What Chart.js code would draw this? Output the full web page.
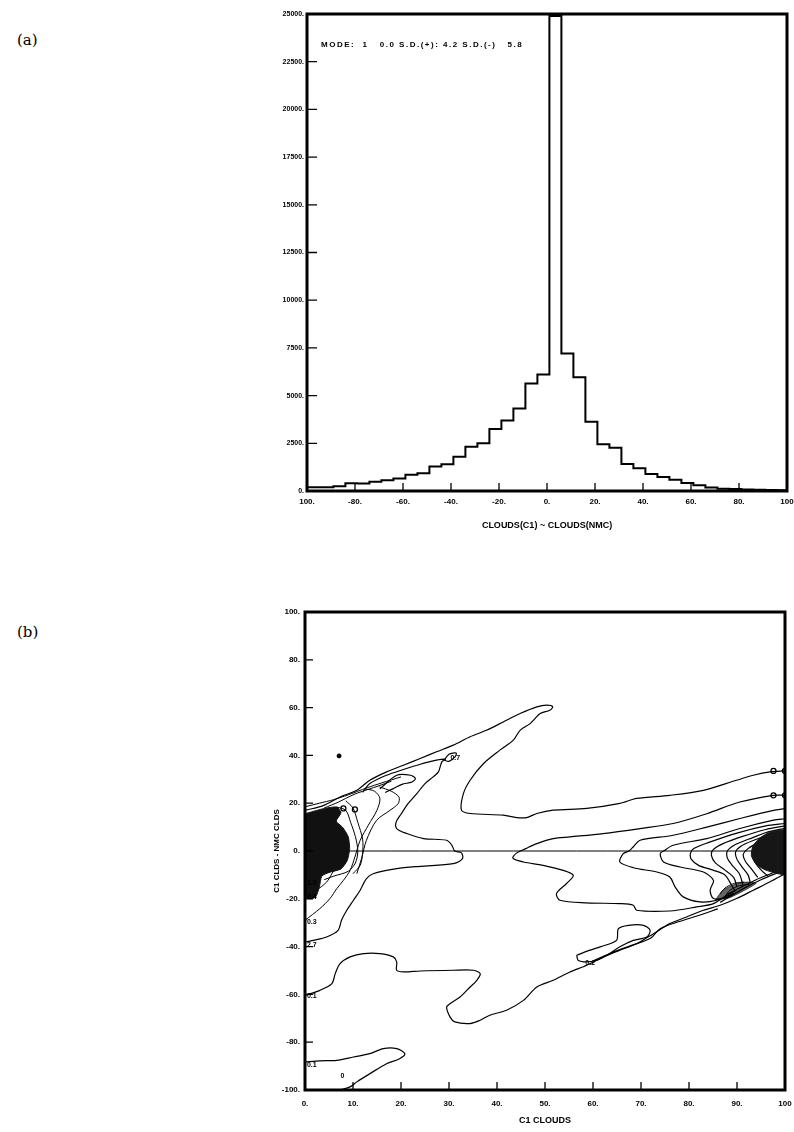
<!DOCTYPE html>
<html>
<head>
<meta charset="utf-8">
<script src="https://cdn.jsdelivr.net/npm/chart.js@4.4.1/dist/chart.umd.min.js"></script>
<style>
  html, body { margin: 0; padding: 0; background: #fff; }
  body { width: 794px; height: 1132px; position: relative; overflow: hidden; }
  .panel { position: absolute; font-family: "DejaVu Serif", "Liberation Serif", serif; font-size: 15px; color: #000; }
  .box { position: absolute; }
  #mode { position: absolute; left: 321px; top: 40px; font: bold 8px "Liberation Sans", Arial, sans-serif;
          letter-spacing: 1.5px; white-space: pre; color: #000; }
</style>
</head>
<body>
<div class="panel" style="left:17px; top:31px">(a)</div>
<div class="panel" style="left:17px; top:623px">(b)</div>
<div class="box" style="left:250px; top:0; width:544px; height:545px"><canvas id="hist"></canvas></div>
<div class="box" style="left:250px; top:590px; width:544px; height:542px"><canvas id="contour"></canvas></div>
<div id="mode">MODE:  1   0.0 S.D.(+): 4.2 S.D.(-)   5.8</div>
<script>
// ---- panel (a): histogram of C1 - NMC cloud differences ----
const binEdges = [-100, -94, -89, -84, -79, -74, -69, -64, -59, -54, -49, -44, -39, -34, -29, -24,
  -19, -14, -9, -4, 1, 6, 11, 16, 21, 26, 31, 36, 41, 46, 51, 56, 61, 66, 71, 76, 81, 86, 91, 96, 100];
const binCounts = [190, 200, 250, 400, 390, 490, 560, 660, 850, 930, 1280, 1400, 1800, 2320, 2500, 3250,
  3690, 4330, 5640, 6110, 24900, 7200, 5960, 3630, 2450, 2270, 1420, 1190, 890, 740, 590, 420,
  300, 180, 120, 100, 80, 60, 50, 40];
const histXLabels = ['100.', '-80.', '-60.', '-40.', '-20.', '0.', '20.', '40.', '60.', '80.', '100'];
const histYLabels = ['0.', '2500.', '5000.', '7500.', '10000.', '12500.', '15000.', '17500.', '20000.', '22500.', '25000.'];

// ---- panel (b): contours of C1 clouds vs (C1 - NMC) ----
const outerUpper = [[0, 17], [3.8, 19], [7.3, 22.6], [10.8, 25.4], [13.5, 29.6], [17, 33.1], [20.5, 35.9], [24, 38.7],
  [27.4, 41.5], [30.9, 44.3], [34.4, 47.8], [37.8, 50.5], [41.3, 54], [44.8, 57.5], [48.3, 60.3], [50.4, 61],
  [51.6, 60.3], [51, 58.9], [49, 57.5], [46.9, 53.3], [44.8, 50.5], [43.4, 46.4], [40.6, 42.2], [37.2, 36.6],
  [34.4, 29.6], [33, 24], [32.6, 17.1], [34.4, 15.7], [41.3, 15], [44.1, 14], [46.2, 14], [48.3, 15.7],
  [51.7, 17.1], [58.7, 17.8], [65.6, 19.9], [69.1, 22], [76, 23.3], [83, 25.4], [89.9, 29.6], [93.4, 31.7],
  [96.9, 33.1], [100, 33.5]];
const outerLower = [[0, -60.4], [3.1, -58.3], [5.6, -55.5], [6.3, -51.3], [7.3, -47.1], [9.4, -44.3], [12.2, -42.9],
  [15.6, -42.9], [18.4, -44.3], [19.1, -46.4], [19.1, -49.9], [20.5, -50.6], [24, -50.2], [30.9, -49.9],
  [35.1, -49.9], [36.5, -51.3], [35.8, -54.1], [34.4, -56.9], [32.3, -61.1], [30.2, -63.9], [29.5, -65.3],
  [30.2, -69.4], [31.2, -71.5], [34.4, -72.2], [36.5, -70.8], [38.5, -68.7], [42, -66.6], [45.5, -62.5],
  [48.3, -56.9], [51.7, -54.1], [55.2, -50.6], [58.7, -47.8], [62.2, -44.3], [65.6, -41.5], [69.1, -38.8],
  [72.6, -34.6], [76, -30.4], [79.5, -27.6], [83, -24.8], [86.5, -22.7], [89.9, -19.9], [93.4, -16.4],
  [96.9, -12.9], [100, -9.5]];
const innerLeft = [[12, 24.5], [13.5, 28.2], [17, 31.7], [20.5, 34.1], [24, 36.3], [27.4, 38], [29.2, 38.4],
  [28.5, 37.3], [27.8, 33.1], [26.7, 31], [25, 28.2], [23.3, 24], [21.5, 19.9], [20.1, 15.7], [19, 12.2],
  [19.1, 9.4], [21.2, 7.3], [24.7, 5.2], [29.5, 4.5], [30.6, 2.4], [31.2, 0], [32.6, -0.8], [32.8, -3.2],
  [30.9, -5.3], [24, -6.4], [19.1, -7.4], [14.2, -9.5], [12.8, -11.6], [11.5, -16.4], [10.1, -20.6],
  [8.7, -24.8], [7.6, -29], [6.9, -33.2], [4.5, -36], [1.7, -37.4], [0, -38.1]];
const loopSeven = [[29, 38], [30, 40.5], [31.5, 41], [31.3, 39.5], [30, 37.5], [29, 38]];
const loopUpperLeft = [[15.6, 26], [19.1, 31.7], [22, 31.7], [23, 30.3], [22.3, 28.9], [20.2, 27.9], [18.4, 26.1], [16.7, 24.5]];
const leftThird = [[0, -29], [3.1, -24.1], [5.2, -19.9], [6.6, -15.8], [8, -12.3], [9.4, -8.1], [10.4, -2.5],
  [11.5, 4.5], [13.2, 10.8], [15, 17.1], [15.6, 22], [14.5, 25], [12.5, 26]];
const leftFourth = [[10.8, -9.5], [11.8, -3], [12.8, 4.5], [14.9, 12.8], [17.7, 17], [19.4, 19.8], [19.6, 22.5], [18, 25], [15.5, 26.8]];
const leftFifth = [[0, -19.2], [2.4, -16.4], [4.5, -13], [5.6, -9.5], [6.6, -6], [7.4, -2], [8, 2]];
const fanOne = [[0, 18.5], [3, 20], [6, 21.5], [9, 23.5], [11, 25], [13, 26.5], [16, 28.5], [20, 31]];
const fanTwo = [[4, 18], [7, 20.5], [10, 23.5], [12, 25], [15, 27], [18, 29.2]];
const clusterArcOne = [[6.6, 18.4], [8.5, 17], [9.5, 12], [10.5, 6], [11, 0], [10.5, -5], [9, -8.5], [6, -10.5], [4, -12]];
const clusterArcTwo = [[8.5, 21], [10, 18], [11, 12], [12, 5], [12, -1], [11.5, -6], [10, -9.5]];
const clusterLeft = [[0, 15.6], [3.8, 17.7], [6.6, 18.4], [7.5, 16], [6.5, 12.5], [7.8, 10], [9, 6], [9.3, 1],
  [8.8, -4], [7.5, -7.5], [5, -9], [3.5, -10.5], [3, -15], [2.2, -19.3], [1, -20], [0, -19.3], [0, 15.6]];
const islandLow = [[0, -88.3], [3.1, -87.8], [6.6, -87.6], [10.1, -86.2], [13.5, -84.8], [16.3, -82.7], [19.1, -82.7],
  [20.8, -84.8], [19.7, -86.9], [17, -89], [13.5, -93.2], [10.8, -96.6], [9.4, -98.7], [7.3, -100]];
const islandMid = [[56.6, -43.6], [59.4, -41.5], [61.5, -40.1], [64.9, -37.4], [65.3, -32.5], [67.4, -31.1],
  [70.5, -31.1], [71.9, -33.2], [71.2, -36], [68.4, -37.4], [65.6, -40.1], [62.9, -43.6], [60.8, -45.7],
  [58.7, -46.4], [56.9, -45.7], [56.6, -43.6]];
const midParallel = [[60, -46], [64, -42.5], [68, -39.5], [72, -36.5], [74, -32.5], [78, -29.5], [82, -27], [86, -24.2]];
const bandInner = [[100, 23.3], [97.6, 23.3], [90.6, 20.5], [83.7, 15.6], [76.7, 11.5], [69.8, 9.4], [62.1, 7.3],
  [55.2, 5.9], [51.7, 5.2], [48.3, 3.1], [46, 1], [44, -1], [43.3, -3], [45.5, -4.6], [49.6, -6], [53.8, -8.1],
  [55.9, -10.2], [54.5, -13.6], [52.4, -17.8], [53.1, -20.6], [58.7, -21.7], [65.6, -22], [68.4, -22.7],
  [69.1, -24.8], [76, -25.1], [81.6, -23.4], [85.1, -22], [87.9, -18.5], [89.9, -16.4]];
const arcG = [[100, 17.7], [97.6, 17], [90.6, 13.6], [83.7, 10], [76.7, 6.6], [69.8, 4.5], [68.5, 2], [67.5, 0],
  [66.3, -1.1], [65.6, -4.6], [68.4, -7], [73.3, -8.8], [76, -10.9], [77.1, -15], [78.8, -19.2], [82.3, -21.3],
  [85.8, -20.6], [89.2, -17.8]];
const arcH = [[100, 13.5], [97.6, 12.9], [90.6, 9.4], [83.7, 5.2], [76.7, 2.4], [74.7, 0], [74, -1.1], [74.7, -4.6],
  [78.1, -6.7], [83, -8.8], [85.1, -12.3], [84.4, -16.4], [85.1, -19.9], [87.8, -19.5], [89.6, -17.6]];
const arcI = [[100, 11.5], [96, 10.5], [90, 7.5], [84, 3.5], [81, 1], [80.3, -1], [80.5, -3.5], [82, -6], [85, -8],
  [87.5, -10], [88.5, -13], [89.5, -16.5]];
const arcJ = [[100, 10.5], [96, 9], [91, 6], [87, 3], [85, 0.5], [84.7, -2], [85.5, -5], [87.5, -8], [89.3, -11], [90, -15]];
const arcK = [[100, 9.5], [96.5, 8], [92.5, 5], [89.5, 2.5], [88, 0], [88, -3], [89, -6], [90.5, -9.5], [91.2, -14]];
const arcL = [[100, 8.5], [97, 7], [93.5, 4.5], [90.8, 2], [89.7, -0.5], [90, -3.5], [91, -6.5], [92.3, -10], [92.8, -13.5]];
const arcM = [[100, 7.5], [97.5, 6], [94.5, 3.5], [92.3, 1], [91.3, -1.5], [91.8, -4.5], [93, -7.5], [94.3, -11]];
const arcN = [[100, 6.5], [97.8, 5], [95.3, 2.5], [93.7, 0], [93.3, -2.5], [94, -5.5], [95.3, -8.5], [96.5, -10.5]];
const arcO = [[100, 5.5], [98, 4], [96.2, 1.5], [95.2, -1], [95.5, -4], [96.5, -6.5], [98, -8.5]];
const arcP = [[100, 4.5], [98.3, 3], [97.2, 0.5], [96.8, -2], [97.3, -4.5], [98.5, -6.5], [100, -7.5]];
const rightLowOne = [[86.5, -21.5], [89, -18.5], [92, -15], [95, -12], [98, -9.5], [100, -8]];
const rightLowTwo = [[88, -18], [91, -15], [94, -12], [97, -9.5], [100, -7]];
const rightLowThree = [[86.5, -18], [87.5, -15.5], [89.5, -13.5], [91.5, -13]];
const rightLowFour = [[87.5, -19], [88.5, -16.5], [90.5, -14.5], [92.5, -14]];
const clusterRight = [[100, 9], [97, 8], [94.8, 5.5], [93.3, 2], [93, -2], [94, -5.5], [96, -8], [100, -9.5], [100, 9]];
const junctionRight = [[85.5, -20.5], [87, -16.5], [89.5, -14], [92, -13], [94, -13.5], [91.5, -16.5], [88.5, -19.5], [85.5, -20.5]];
const zeroLine = [[0, 0], [100, 0]];
const labelMarks = [[97.6, 33.5], [100, 33.5], [97.6, 23.3], [100, 23.3], [8, 17.8], [10.4, 17.4]];
const dotMarks = [[7.1, 39.8]];
const contourLabels = [[30.3, 38.8, '0.7'], [0.4, -13.6, '1.5'], [0.4, -19.4, '2.4'], [0.4, -29.6, '0.3'],
  [0.4, -39.2, '2.7'], [0.4, -60.6, '0.1'], [0.4, -89.5, '0.1'], [7.4, -94.3, '0'], [58.4, -47, '0.2']];
const contourXLabels = ['0.', '10.', '20.', '30.', '40.', '50.', '60.', '70.', '80.', '90.', '100'];
const contourYLabels = ['-100.', '-80.', '-60.', '-40.', '-20.', '0.', '20.', '40.', '60.', '80.', '100.'];

Chart.defaults.font.family = '"Liberation Sans", Arial, sans-serif';
Chart.defaults.font.weight = 'bold';
Chart.defaults.font.size = 8;
Chart.defaults.color = '#000';

// thick frame around the plot plus short ticks pointing inwards
function framePlugin(xTick, yTick, frameWidth) {
  return {
    id: 'frame',
    afterDatasetsDraw(chart) {
      const { ctx, chartArea: a, scales } = chart;
      ctx.save();
      ctx.strokeStyle = '#000';
      ctx.lineWidth = 1.3;
      ctx.beginPath();
      for (const t of scales.x.ticks) {
        const px = scales.x.getPixelForValue(t.value);
        ctx.moveTo(px, a.bottom);
        ctx.lineTo(px, a.bottom - xTick);
      }
      for (const t of scales.y.ticks) {
        const py = scales.y.getPixelForValue(t.value);
        ctx.moveTo(a.left, py);
        ctx.lineTo(a.left + yTick, py);
      }
      ctx.stroke();
      ctx.lineWidth = frameWidth;
      ctx.strokeRect(a.left, a.top, a.width, a.height);
      ctx.restore();
    }
  };
}

const labelPlugin = {
  id: 'contourLabels',
  afterDatasetsDraw(chart) {
    const { ctx, scales } = chart;
    ctx.save();
    ctx.font = 'bold 7px "Liberation Sans", Arial, sans-serif';
    ctx.fillStyle = '#000';
    ctx.textBaseline = 'middle';
    for (const [x, y, text] of contourLabels) {
      ctx.fillText(text, scales.x.getPixelForValue(x), scales.y.getPixelForValue(y));
    }
    ctx.restore();
  }
};

// x axis: fixed height and no extra room kept for the end labels
function fitX(height) {
  return (s) => { s.height = height; s.paddingLeft = 0; s.paddingRight = 0; };
}

const histPoints = binCounts.map((c, i) => ({ x: binEdges[i], y: c }));
histPoints.push({ x: binEdges[binEdges.length - 1], y: binCounts[binCounts.length - 1] });

new Chart(document.getElementById('hist'), {
  type: 'line',
  data: {
    datasets: [{
      data: histPoints,
      stepped: true,
      borderColor: '#000',
      borderWidth: 2,
      pointRadius: 0,
      fill: false,
    }],
  },
  options: {
    responsive: true,
    maintainAspectRatio: false,
    animation: false,
    layout: { padding: { top: 14, right: 7, left: 0, bottom: 0 } },
    plugins: { legend: { display: false }, tooltip: { enabled: false } },
    scales: {
      x: {
        type: 'linear', min: -100, max: 100,
        afterFit: fitX(54),
        grid: { display: false, drawTicks: false },
        border: { display: false },
        ticks: { stepSize: 20, padding: 6, maxRotation: 0, callback: (v, i) => histXLabels[i] },
        title: { display: true, text: 'CLOUDS(C1) ~ CLOUDS(NMC)', font: { size: 9, weight: 'bold' }, padding: { top: 0, bottom: 14 } },
      },
      y: {
        type: 'linear', min: 0, max: 25000,
        afterFit: (s) => { s.width = 57; },
        grid: { display: false, drawTicks: false },
        border: { display: false },
        ticks: { stepSize: 2500, padding: 3, font: { size: 7, weight: 'bold' }, callback: (v, i) => histYLabels[i] },
      },
    },
  },
  plugins: [framePlugin(8, 10, 3)],
});

function line(points, width = 1.2) {
  return {
    data: points.map(([x, y]) => ({ x, y })),
    showLine: true, borderColor: '#000', borderWidth: width,
    pointRadius: 0, tension: 0.3, fill: false,
  };
}
function blob(points, color) {
  return {
    data: points.map(([x, y]) => ({ x, y })),
    showLine: true, borderColor: color, borderWidth: 1, backgroundColor: color,
    pointRadius: 0, tension: 0.2, fill: 'shape',
  };
}

new Chart(document.getElementById('contour'), {
  type: 'scatter',
  data: {
    datasets: [
      blob(clusterLeft, '#111'), blob(clusterRight, '#161616'), blob(junctionRight, 'rgba(0,0,0,0.6)'),
      line(outerUpper), line(outerLower), line(innerLeft), line(loopSeven), line(loopUpperLeft),
      line(leftThird, 1), line(leftFourth, 1), line(leftFifth, 1), line(fanOne, 1), line(fanTwo, 1),
      line(clusterArcOne, 1), line(clusterArcTwo, 1),
      line(islandLow), line(islandMid), line(midParallel), line(bandInner),
      line(arcG), line(arcH), line(arcI), line(arcJ), line(arcK), line(arcL), line(arcM), line(arcN),
      line(arcO), line(arcP), line(rightLowOne), line(rightLowTwo), line(rightLowThree, 1), line(rightLowFour, 1),
      line(zeroLine, 1),
      { data: labelMarks.map(([x, y]) => ({ x, y })), pointRadius: 2.5, pointBorderWidth: 1.3,
        pointBorderColor: '#000', pointBackgroundColor: '#fff', showLine: false },
      { data: dotMarks.map(([x, y]) => ({ x, y })), pointRadius: 2, pointBackgroundColor: '#000',
        pointBorderColor: '#000', showLine: false },
    ],
  },
  options: {
    responsive: true,
    maintainAspectRatio: false,
    animation: false,
    layout: { padding: { top: 22, right: 9, left: 0, bottom: 0 } },
    plugins: { legend: { display: false }, tooltip: { enabled: false } },
    scales: {
      x: {
        type: 'linear', min: 0, max: 100,
        afterFit: fitX(42),
        grid: { display: false, drawTicks: false },
        border: { display: false },
        ticks: { stepSize: 10, padding: 9, maxRotation: 0, callback: (v, i) => contourXLabels[i] },
        title: { display: true, text: 'C1 CLOUDS', font: { size: 9, weight: 'bold' }, padding: { top: 0, bottom: 6 } },
      },
      y: {
        type: 'linear', min: -100, max: 100,
        afterFit: (s) => { s.width = 55; },
        grid: { display: false, drawTicks: false },
        border: { display: false },
        ticks: { stepSize: 20, padding: 5, callback: (v, i) => contourYLabels[i] },
        title: { display: true, text: 'C1 CLDS - NMC CLDS', font: { size: 8, weight: 'bold' }, padding: { top: 22, bottom: 0 } },
      },
    },
  },
  plugins: [framePlugin(8, 8, 3), labelPlugin],
});
</script>
</body>
</html>
